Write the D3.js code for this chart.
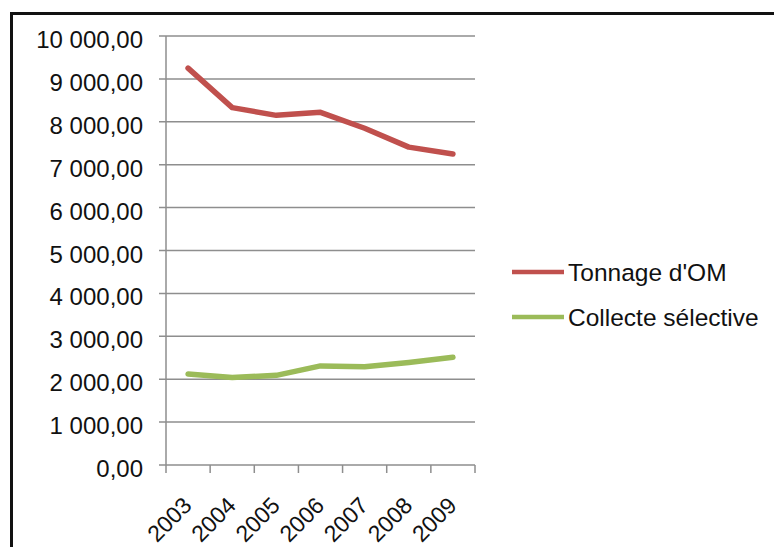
<!DOCTYPE html>
<html>
<head>
<meta charset="utf-8">
<script src="https://cdn.jsdelivr.net/npm/d3@7"></script>
<style>
  html, body { margin: 0; padding: 0; background: #fff; }
  svg { display: block; }
  text { font-family: "Liberation Sans", Arial, sans-serif; fill: #111; }
</style>
</head>
<body>
<svg id="chart" width="774" height="547"></svg>
<script>
const years = ["2003", "2004", "2005", "2006", "2007", "2008", "2009"];
const tonnageOM = [9250, 8330, 8150, 8220, 7850, 7410, 7250];
const collecteSelective = [2120, 2040, 2090, 2310, 2290, 2390, 2510];
const yTicks = [0, 1000, 2000, 3000, 4000, 5000, 6000, 7000, 8000, 9000, 10000];
const seriesNames = ["Tonnage d'OM", "Collecte sélective"];
const seriesColors = ["#c0504d", "#9bbb59"];

(function () {
const svg = d3.select("#chart");

// outer frame (left and top visible)
svg.append("path")
  .attr("d", "M11.5,547 L11.5,13.5 L774,13.5")
  .attr("fill", "none").attr("stroke", "#111").attr("stroke-width", 3);

const pLeft = 166, pRight = 475, pTop = 36, pBottom = 465;

const x = d3.scaleBand().domain(years).range([pLeft, pRight]);
const y = d3.scaleLinear().domain([0, 10000]).range([pBottom, pTop]);

const fmt = v => {
  const s = d3.format(",.2f")(v);
  return s.replace(/,/g, " ").replace(".", ",");
};

// gridlines
svg.append("g").selectAll("line").data(yTicks).join("line")
  .attr("x1", pLeft - 7).attr("x2", pRight)
  .attr("y1", d => y(d)).attr("y2", d => y(d))
  .attr("stroke", "#8e8e8e").attr("stroke-width", 1.5);

// y axis line
svg.append("line")
  .attr("x1", pLeft).attr("x2", pLeft).attr("y1", pTop).attr("y2", pBottom)
  .attr("stroke", "#8e8e8e").attr("stroke-width", 1.5);

// x ticks (at band boundaries)
const xBounds = years.map(d => x(d)).concat([pRight]);
svg.append("g").selectAll("line").data(xBounds).join("line")
  .attr("x1", d => d).attr("x2", d => d)
  .attr("y1", pBottom).attr("y2", pBottom + 8)
  .attr("stroke", "#8e8e8e").attr("stroke-width", 1.5);

// y tick labels
svg.append("g").selectAll("text").data(yTicks).join("text")
  .attr("x", 143).attr("y", d => y(d) + 12)
  .attr("text-anchor", "end")
  .attr("font-size", 24)
  .text(d => fmt(d));

// x labels rotated
svg.append("g").selectAll("text").data(years).join("text")
  .attr("text-anchor", "end")
  .attr("font-size", 23)
  .attr("transform", d => `translate(${x(d) + x.bandwidth() / 2 + 5},${pBottom + 42}) rotate(-45)`)
  .text(d => d);

// lines
const line = d3.line()
  .x((d, i) => x(years[i]) + x.bandwidth() / 2)
  .y(d => y(d));

[tonnageOM, collecteSelective].forEach((s, i) => {
  svg.append("path")
    .attr("d", line(s))
    .attr("fill", "none")
    .attr("stroke", seriesColors[i])
    .attr("stroke-width", 5.5)
    .attr("stroke-linejoin", "round")
    .attr("stroke-linecap", "round");
});

// legend
const legendY = [272, 317];
seriesNames.forEach((n, i) => {
  svg.append("line")
    .attr("x1", 512).attr("x2", 564)
    .attr("y1", legendY[i]).attr("y2", legendY[i])
    .attr("stroke", seriesColors[i]).attr("stroke-width", 4.5);
  svg.append("text")
    .attr("x", 568).attr("y", legendY[i] + 9)
    .attr("font-size", 24.5)
    .text(n);
});
})();
</script>
</body>
</html>
